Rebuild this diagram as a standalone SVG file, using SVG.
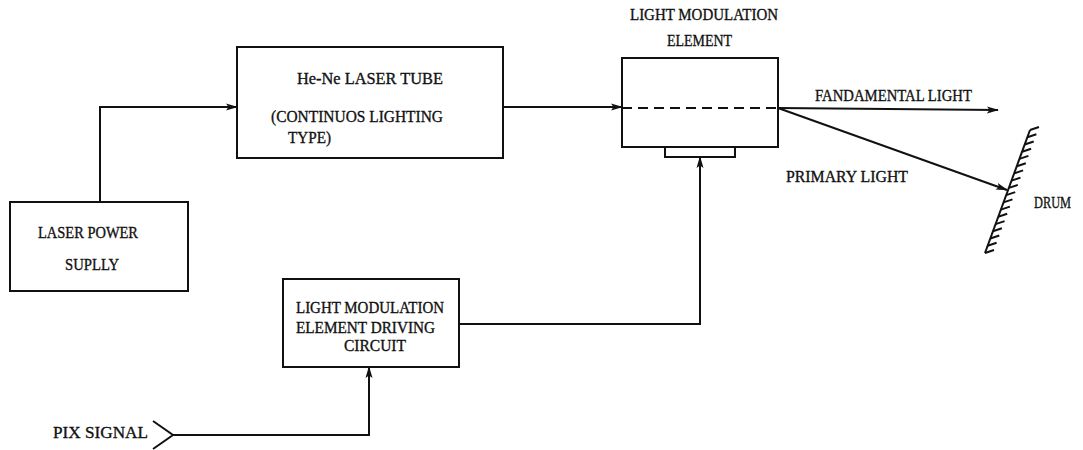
<svg xmlns="http://www.w3.org/2000/svg" width="1083" height="450" viewBox="0 0 1083 450">
<style>
.box{fill:none;stroke:#111;stroke-width:2}
.ln{fill:none;stroke:#111;stroke-width:2}
.t{font-family:"Liberation Serif","DejaVu Serif",serif;font-size:17px;fill:#111;stroke:#111;stroke-width:0.35}
</style>
<defs>
<marker id="ah" markerUnits="userSpaceOnUse" markerWidth="12" markerHeight="8" refX="11" refY="4" orient="auto">
<path d="M0,0.5 L12,4 L0,7.5 L2.5,4 z" fill="#111"/>
</marker>
</defs>
<rect width="1083" height="450" fill="#fff"/>

<g id="laser-tube">
<rect class="box" x="237" y="47" width="266" height="111"/>
<text class="t" x="297" y="84" textLength="146" lengthAdjust="spacingAndGlyphs">He-Ne LASER TUBE</text>
<text class="t" x="271" y="122" textLength="172" lengthAdjust="spacingAndGlyphs">(CONTINUOS LIGHTING</text>
<text class="t" x="288" y="143" textLength="43" lengthAdjust="spacingAndGlyphs">TYPE)</text>
</g>

<g id="power-supply">
<rect class="box" x="10" y="202" width="178" height="89"/>
<text class="t" x="38" y="238" textLength="100" lengthAdjust="spacingAndGlyphs">LASER POWER</text>
<text class="t" x="65" y="270" textLength="54" lengthAdjust="spacingAndGlyphs">SUPLLY</text>
</g>

<g id="modulation-element">
<rect class="box" x="622" y="58" width="156" height="89"/>
<path class="ln" d="M665,147 V157 H735 V147"/>
<line class="ln" x1="622" y1="108" x2="778" y2="108" stroke-dasharray="10 6"/>
<text class="t" x="630" y="20" textLength="148" lengthAdjust="spacingAndGlyphs">LIGHT MODULATION</text>
<text class="t" x="667" y="46" textLength="65" lengthAdjust="spacingAndGlyphs">ELEMENT</text>
</g>

<g id="driving-circuit">
<rect class="box" x="283" y="279" width="176" height="88"/>
<text class="t" x="296" y="313" textLength="148" lengthAdjust="spacingAndGlyphs">LIGHT MODULATION</text>
<text class="t" x="296" y="333" textLength="139" lengthAdjust="spacingAndGlyphs">ELEMENT DRIVING</text>
<text class="t" x="344" y="351" textLength="62" lengthAdjust="spacingAndGlyphs">CIRCUIT</text>
</g>

<g id="drum">
<line class="ln" x1="1030" y1="130" x2="985" y2="253" stroke-width="2.5"/>
<path class="ln" stroke-width="2.2" d="M1030,130 l9,-3 M1027.4,137.2 l9,-3 M1024.7,144.5 l9,-3 M1022.1,151.7 l9,-3 M1019.4,158.9 l9,-3 M1016.8,166.2 l9,-3 M1014.1,173.4 l9,-3 M1011.5,180.6 l9,-3 M1008.8,187.9 l9,-3 M1006.2,195.1 l9,-3 M1003.5,202.4 l9,-3 M1000.9,209.6 l9,-3 M998.2,216.8 l9,-3 M995.6,224.1 l9,-3 M992.9,231.3 l9,-3 M990.3,238.5 l9,-3 M987.6,245.8 l9,-3 M985,253 l9,-3"/>
<text class="t" x="1034" y="208" font-size="15" textLength="37" lengthAdjust="spacingAndGlyphs">DRUM</text>
</g>

<g id="pix-signal">
<path class="ln" d="M153,421 L173,435 L153,449"/>
<text class="t" x="53" y="438" textLength="95" lengthAdjust="spacingAndGlyphs">PIX SIGNAL</text>
</g>

<g id="connectors">
<path class="ln" d="M100,202 V107 H237" marker-end="url(#ah)"/>
<line class="ln" x1="503" y1="107" x2="622" y2="107" marker-end="url(#ah)"/>
<path class="ln" d="M459,324 H700 V157" marker-end="url(#ah)"/>
<path class="ln" d="M173,435 H369 V367" marker-end="url(#ah)"/>
<line class="ln" x1="778" y1="108" x2="998" y2="110" marker-end="url(#ah)"/>
<line class="ln" x1="778" y1="108" x2="1007" y2="190" marker-end="url(#ah)"/>
<text class="t" x="815" y="101" textLength="157" lengthAdjust="spacingAndGlyphs">FANDAMENTAL LIGHT</text>
<text class="t" x="786" y="182" textLength="122" lengthAdjust="spacingAndGlyphs">PRIMARY LIGHT</text>
</g>
</svg>
